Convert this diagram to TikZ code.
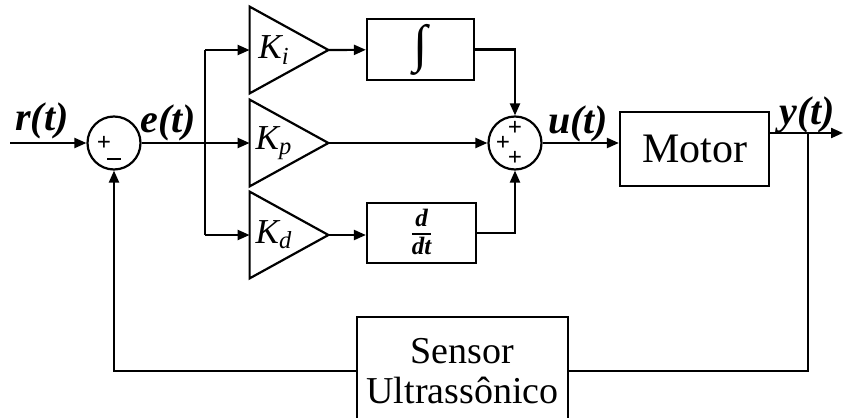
\documentclass[tikz,border=0pt]{standalone}
\usepackage{amsmath}
\usepackage{fontspec}
\setmainfont{Liberation Serif}
\usetikzlibrary{arrows.meta,positioning}

\begin{document}
\begin{tikzpicture}[x=0.5pt,y=-0.5pt,
 line/.style={line width=1.1pt},
 arrow/.style={line,-{Triangle[length=6pt,width=5pt]}},
 block/.style={draw,line,align=center,inner sep=0pt,
               font=\fontsize{21}{24}\selectfont},
 gain/.style={minimum width=39pt,minimum height=43pt,inner sep=0pt,
              font=\fontsize{17.5}{20}\selectfont\itshape,
              execute at end node={\hspace{15pt}}},
 sumnode/.style={draw,line,circle,minimum size=26.5pt,inner sep=0pt},
 sign/.style={inner sep=0pt,font=\fontsize{12.5}{12.5}\selectfont\bfseries},
 sig/.style={inner sep=0pt,font=\fontsize{20}{22}\selectfont\bfseries\itshape}]
 \useasboundingbox (0,0) rectangle (843,418);
 % summing junctions
 \node[sumnode] (sum1) at (114,143) {};
 \node[sign] (s1p) at ([xshift=-5pt]sum1.center) {+};
 \node[sign] (s1m) at ([yshift=-8pt]sum1.center) {\rule{7pt}{1.3pt}};
 \node[sumnode] (sum2) at (515,143) {};
 \node[sign] (s2t) at ([yshift=7.5pt]sum2.center) {+};
 \node[sign] (s2l) at ([xshift=-6pt]sum2.center) {+};
 \node[sign] (s2b) at ([yshift=-7.5pt]sum2.center) {+};
 % gains
 \node[gain] (ki) at (289,50) {K\textsubscript{i}};
 \node[gain] (kp) at (289,143) {K\textsubscript{p}};
 \node[gain] (kd) at (289,235) {K\textsubscript{d}};
 \foreach \g in {ki,kp,kd}
   \draw[line,line join=miter] (\g.north west) -- (\g.east) -- (\g.south west) -- cycle;
 % blocks
 \node[block,minimum width=53.5pt,minimum height=30.5pt] (integ) at (420.5,49.5)
   {\fontsize{26}{26}\selectfont\itshape ∫};
 \node[block,minimum width=54.5pt,minimum height=30pt] (deriv) at (421.5,233)
   {\fontsize{12.5}{14}\selectfont\bfseries\itshape\setlength\arrayrulewidth{1pt}%
    \raisebox{-8pt}{\smash{\begin{tabular}{@{}c@{}}d\\[-1pt]\hline\rule{0pt}{10pt}dt\end{tabular}}}};
 \node[block,minimum width=74.5pt,minimum height=37pt] (motor) at (694.5,149) {Motor};
 \node[block,minimum width=105.5pt,minimum height=54pt,
       font=\fontsize{19}{20}\selectfont] (sensor) at (462.5,371)
   {Sensor\\Ultrassônico};
 % signals
 \node[sig] (rlab) at (42,121) {r(t)};
 \node[sig] (elab) at (168,123) {e(t)};
 \node[sig] (ulab) at (578,124) {u(t)};
 \node[sig] (ylab) at (807,115) {y(t)};
 \coordinate (in) at (10,143);
 \coordinate (split) at (205,143);
 \coordinate (ybranch) at (808,133);
 \coordinate (out) at (843,133);
 % connectors
 \draw[arrow] (in) -- (sum1);
 \draw[line] (sum1) -- (split);
 \draw[line] (split |- ki) -- (split |- kd);
 \foreach \g in {ki,kp,kd}
   \draw[arrow] (split |- \g) -- (\g.west);
 \draw[arrow] (ki.east) -- (integ);
 \draw[arrow] (kp.east) -- (sum2);
 \draw[arrow] (kd.east) -- (deriv.west |- kd.east);
 \draw[arrow] (integ) -| (sum2);
 \draw[arrow] (deriv) -| (sum2);
 \draw[arrow] (sum2) -- (motor.west |- sum2);
 \draw[arrow] (motor.east |- out) -- (out);
 \draw[line] (ybranch) |- (sensor);
 \draw[arrow] (sensor) -| (sum1);
\end{tikzpicture}
\end{document}
